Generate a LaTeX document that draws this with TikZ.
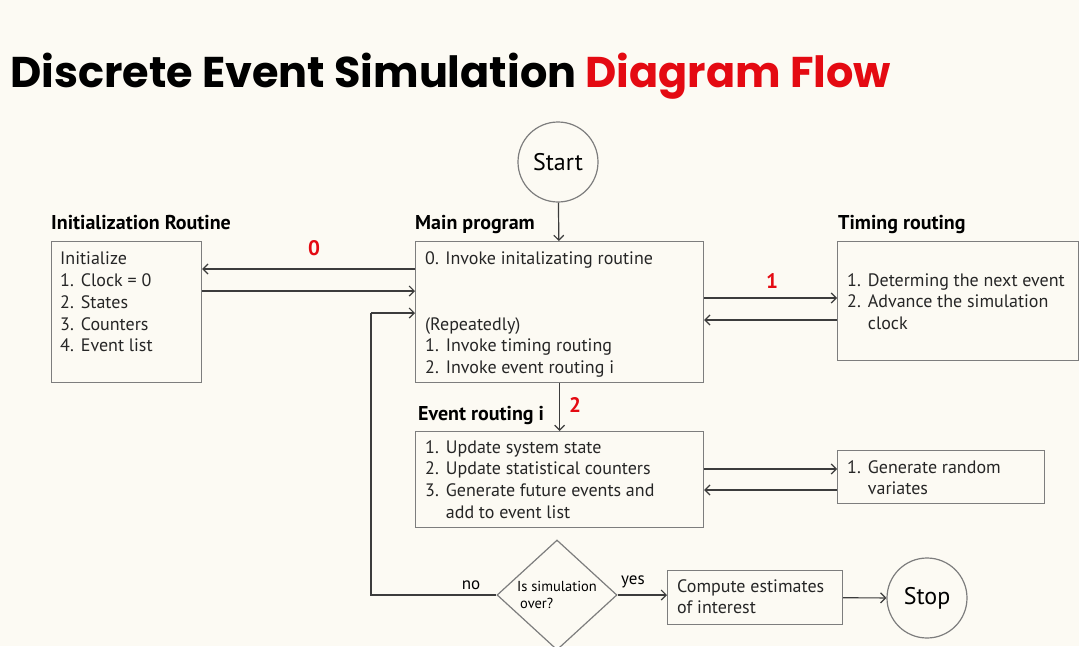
\documentclass[tikz,border=0pt]{standalone}
\usepackage{fontspec}
\setmainfont{PT Sans}
\newfontfamily\titlefont{Poppins}
\usepackage{tikz}
\usetikzlibrary{shapes.geometric, arrows.meta, positioning, calc}
\definecolor{papercolor}{RGB}{252,250,243}
\definecolor{framecolor}{RGB}{125,125,125}
\definecolor{linecolor}{RGB}{60,60,60}
\definecolor{markcolor}{RGB}{228,10,18}
\newcommand{\itm}[1]{\makebox[1.15em][l]{#1}}

\begin{document}
\begin{tikzpicture}[
    x=1pt, y=-1pt,
    routine/.style={draw=framecolor, line width=1.2pt, anchor=north west, inner sep=0pt},
    listtext/.style={anchor=north west, align=left, inner sep=0pt, text=black!85, font=\fontsize{18}{21.7}\selectfont},
    heading/.style={anchor=base west, inner sep=0pt, font=\fontsize{20}{22}\selectfont\bfseries},
    terminal/.style={draw=framecolor, line width=1.2pt, circle, minimum size=80pt, inner sep=0pt, font=\fontsize{24}{26}\selectfont},
    decision/.style={draw=framecolor, line width=1.2pt, diamond, aspect=1.1, minimum width=120pt, minimum height=110pt, inner sep=0pt, align=left, font=\fontsize{14.5}{17}\selectfont},
    marker/.style={text=markcolor, inner sep=0pt, font=\fontsize{21}{23}\selectfont\bfseries},
    small/.style={inner sep=0pt, font=\fontsize{17}{19}\selectfont},
    flow/.style={draw=linecolor, line width=1.2pt, -{Straight Barb[length=5pt, width=10pt]}}
]
    % Page
    \useasboundingbox (0,0) rectangle (1079,646);
    \clip (0,0) rectangle (1079,646);
    \fill[papercolor] (0,0) rectangle (1079,646);

    % Title
    \node[anchor=base west, inner sep=0pt, font=\fontsize{43}{47}\selectfont\titlefont\bfseries] (title) at (10,87)
        {Discrete Event Simulation \textcolor{markcolor}{Diagram Flow}};

    % Boxes
    \node[terminal] (start) at (558,162) {Start};
    \node[routine, minimum width=150pt, minimum height=141pt] (init) at (51,241) {};
    \node[routine, minimum width=288pt, minimum height=141pt] (main) at (415,241) {};
    \node[routine, minimum width=241pt, minimum height=119pt] (timing) at (837,241) {};
    \node[routine, minimum width=288pt, minimum height=96pt] (event) at (415,431) {};
    \node[routine, minimum width=207pt, minimum height=53pt] (random) at (837,450) {};
    \node[decision] (over) at (557,595) {Is simulation\\\hspace*{3pt}over?};
    \node[routine, minimum width=175pt, minimum height=54pt] (compute) at (667,570) {};
    \node[terminal] (stop) at (927,598) {Stop};

    % Headings
    \node[heading] (initlbl) at ([yshift=12pt]init.north west) {Initialization Routine};
    \node[heading] (mainlbl) at ([yshift=12pt]main.north west) {Main program};
    \node[heading] (timinglbl) at ([xshift=1pt, yshift=12pt]timing.north west) {Timing routing};
    \node[heading] (eventlbl) at ([xshift=3pt, yshift=11pt]event.north west) {Event routing i};

    % Box texts
    \node[listtext] (inittxt) at ([xshift=9pt, yshift=-11pt]init.north west)
        {Initialize\\\itm{1.}Clock = 0\\\itm{2.}States\\\itm{3.}Counters\\\itm{4.}Event list};
    \node[listtext] (maintxt1) at ([xshift=10pt, yshift=-10pt]main.north west)
        {0. Invoke initalizating routine};
    \node[listtext] (maintxt2) at ([xshift=10pt, yshift=-76pt]main.north west)
        {(Repeatedly)\\\itm{1.}Invoke timing routing\\\itm{2.}Invoke event routing i};
    \node[listtext] (timingtxt) at ([xshift=10pt, yshift=-32pt]timing.north west)
        {\itm{1.}Determing the next event\\\itm{2.}Advance the simulation\\\itm{}clock};
    \node[listtext] (eventtxt) at ([xshift=10pt, yshift=-9pt]event.north west)
        {\itm{1.}Update system state\\\itm{2.}Update statistical counters\\\itm{3.}Generate future events and\\\itm{}add to event list};
    \node[listtext] (randomtxt) at ([xshift=10pt, yshift=-10pt]random.north west)
        {\itm{1.}Generate random\\\itm{}variates};
    \node[listtext] (computetxt) at ([xshift=10pt, yshift=-9pt]compute.north west)
        {Compute estimates\\of interest};

    % Step numbers and answers
    \node[marker] (zero) at (314,248) {0};
    \node[marker] (one) at (772,281) {1};
    \node[marker] (two) at (575,405) {2};
    \node[small] (no) at (471,585) {no};
    \node[small] (yes) at (633,582) {yes};

    % Connections
    \coordinate (loop) at (371,313);
    \draw[flow] (start) -- (main);
    \draw[flow] ([yshift=-28pt]main.north west) -- ([yshift=-28pt]init.north east);
    \draw[flow] ([yshift=-50pt]init.north east) -- ([yshift=-50pt]main.north west);
    \draw[flow] ([yshift=-57pt]main.north east) -- ([yshift=-57pt]timing.north west);
    \draw[flow] ([yshift=-79pt]timing.north west) -- ([yshift=-79pt]main.north east);
    \draw[flow] (main) -- (event);
    \draw[flow] ([yshift=-38pt]event.north east) -- ([yshift=-19pt]random.north west);
    \draw[flow] ([yshift=-40pt]random.north west) -- ([yshift=-59pt]event.north east);
    \draw[flow, -] (over.west) -| (loop);
    \draw[flow] (loop) -- ([yshift=-72pt]main.north west);
    \draw[flow] (over.east) -- (over.east -| compute.west);
    \draw[flow] (compute) -- (stop);
\end{tikzpicture}
\end{document}
